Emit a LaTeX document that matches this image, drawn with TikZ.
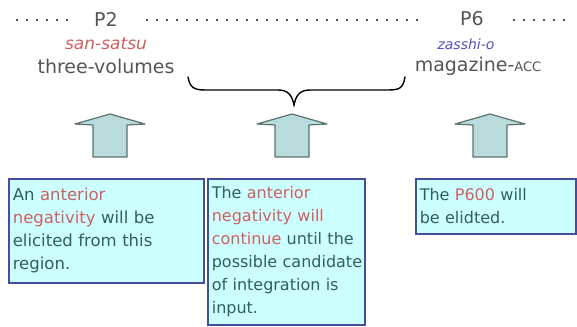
\documentclass[tikz,border=0pt]{standalone}
\usepackage{fontspec}
\setmainfont{DejaVu Sans}
\definecolor{boxfill}{HTML}{CCFFFF}
\definecolor{boxline}{HTML}{4B4B9B}
\definecolor{boxtext}{HTML}{2F5F5F}
\definecolor{redword}{HTML}{D06060}
\definecolor{blueword}{HTML}{5050C0}
\definecolor{toptext}{HTML}{555555}
\definecolor{arrowfill}{HTML}{B8DCDC}
\definecolor{arrowline}{HTML}{5F7070}
\tikzset{
  infobox/.style={draw=boxline, line width=1.6pt, fill=boxfill, anchor=north west,
    align=left, inner xsep=4pt, inner ysep=3pt, text=boxtext,
    font=\fontsize{16}{23}\selectfont},
  toplabel/.style={text=toptext, font=\fontsize{19}{22}\selectfont, inner sep=0pt},
  glossred/.style={text=redword, font=\fontsize{17}{20}\selectfont\itshape, inner sep=0pt},
  glossblue/.style={text=blueword, font=\fontsize{14}{18}\selectfont\itshape, inner sep=0pt},
  dotline/.style={draw=toptext, line width=2.2pt, dash pattern=on 2.2pt off 7.8pt},
  bracepath/.style={draw=black, line width=1.4pt, line cap=round},
  blockarrow/.style={draw=arrowline, fill=arrowfill, line width=1.2pt, line join=round}
}
\newcommand{\upblock}[2]{%
  \draw[blockarrow] (#1-35,#2+10) -- (#1,#2) -- (#1+35,#2+10) -- (#1+17,#2+11)
    -- (#1+17,#2+43) -- (#1-17,#2+43) -- (#1-17,#2+11) -- cycle;}
\begin{document}
\begin{tikzpicture}[x=1pt,y=-1pt]
\useasboundingbox (0,0) rectangle (577,326);
% dotted lines
\coordinate (d1a) at (16,20); \coordinate (d1b) at (70,20);
\coordinate (d2a) at (146,20); \coordinate (d2b) at (426,20);
\coordinate (d3a) at (513,20); \coordinate (d3b) at (568,20);
\draw[dotline] (d1a) -- (d1b);
\draw[dotline] (d2a) -- (d2b);
\draw[dotline] (d3a) -- (d3b);
% top labels
\node[toplabel] (p2) at (106,19) {P2};
\node[glossred] (sansatsu) at (106,44) {san-satsu};
\node[toplabel] (three) at (106,66) {three-volumes};
\node[toplabel] (p6) at (472,19) {P6};
\node[glossblue] (zasshi) at (466,44) {zasshi-o};
\node[toplabel] (mag) at (478,66) {magazine-{\fontsize{13}{15}\selectfont ACC}};
% brace
\coordinate (bl) at (188,77);
\coordinate (br) at (405,77);
\coordinate (btip) at (294,105);
\draw[bracepath] (bl) .. controls (190,88) and (194,90) .. (206,90) -- (278,90)
  .. controls (288,90) and (292,95) .. (btip)
  .. controls (296,95) and (300,90) .. (310,90) -- (388,90)
  .. controls (400,90) and (403,88) .. (br);
% block arrows
\upblock{110}{114}
\upblock{292}{114}
\upblock{490}{114}
% boxes
\node[infobox, text width=187pt, minimum height=104pt, font=\fontsize{16.5}{23}\selectfont] (box1) at (8,178)
  {An \textcolor{redword}{anterior}\\
   \textcolor{redword}{negativity} will be\\
   elicited from this\\
   region.};
\node[infobox, text width=149pt, minimum height=146pt] (box2) at (207,178)
  {The \textcolor{redword}{anterior}\\
   \textcolor{redword}{negativity will}\\
   \mbox{\textcolor{redword}{continue} until the}\\
   \mbox{possible candidate}\\
   of integration is\\
   input.};
\node[infobox, text width=152pt, minimum height=55pt] (box3) at (415,178)
  {The \textcolor{redword}{P600} will\\
   be elidted.};
\end{tikzpicture}
\end{document}
